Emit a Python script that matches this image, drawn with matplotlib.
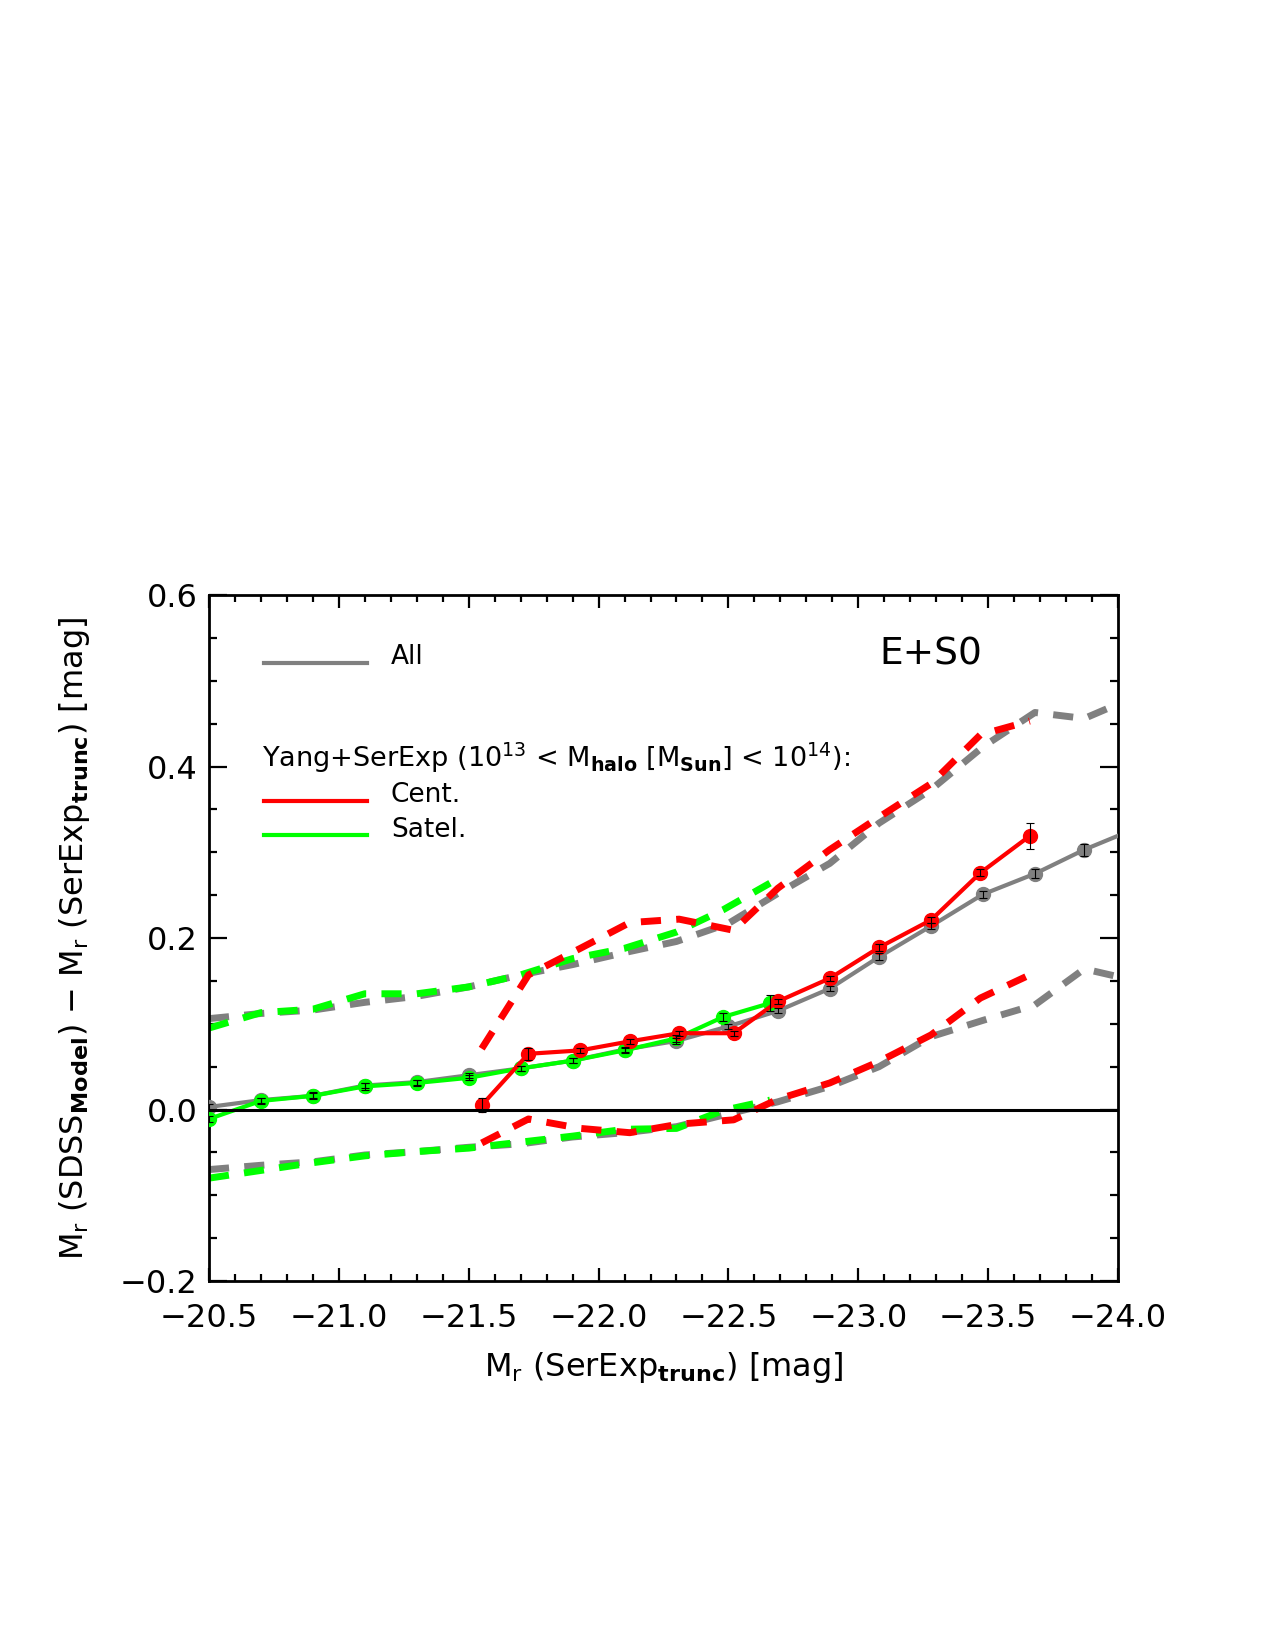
import numpy as np
import matplotlib
matplotlib.use('Agg')
import matplotlib.pyplot as plt
from matplotlib.ticker import MultipleLocator, FuncFormatter

# solid lines: median offset per magnitude bin
all_x = [-20.5, -20.7, -20.9, -21.1, -21.3, -21.5, -21.7, -21.9, -22.1, -22.3,
         -22.5, -22.69, -22.89, -23.08, -23.28, -23.48, -23.68, -23.87, -24.07]
all_y = [0.003, 0.011, 0.016, 0.028, 0.032, 0.040, 0.048, 0.057, 0.070, 0.080,
         0.097, 0.115, 0.141, 0.178, 0.214, 0.251, 0.275, 0.303, 0.328]
all_err = [0.004, 0.003, 0.003, 0.003, 0.003, 0.003, 0.003, 0.003, 0.003, 0.003,
           0.003, 0.003, 0.003, 0.004, 0.004, 0.004, 0.005, 0.007, 0.008]

sat_x = [-20.5, -20.7, -20.9, -21.1, -21.3, -21.5, -21.7, -21.9, -22.1, -22.3,
         -22.48, -22.66]
sat_y = [-0.011, 0.010, 0.016, 0.027, 0.031, 0.037, 0.048, 0.057, 0.069, 0.083,
         0.108, 0.124]
sat_err = [0.004, 0.004, 0.004, 0.004, 0.003, 0.003, 0.003, 0.003, 0.003, 0.004,
           0.005, 0.009]

cen_x = [-21.55, -21.73, -21.93, -22.12, -22.31, -22.52, -22.69, -22.89, -23.08,
         -23.28, -23.47, -23.66]
cen_y = [0.005, 0.065, 0.069, 0.0795, 0.089, 0.089, 0.126, 0.153, 0.189, 0.221,
         0.276, 0.319]
cen_err = [0.008, 0.007, 0.003, 0.003, 0.003, 0.003, 0.003, 0.003, 0.004, 0.004,
           0.004, 0.0155]

# dashed lines: upper / lower percentiles
all_hi = [0.106, 0.112, 0.116, 0.125, 0.132, 0.143, 0.157, 0.169, 0.183, 0.196,
          0.217, 0.252, 0.287, 0.334, 0.373, 0.423, 0.463, 0.456, 0.482]
all_lo = [-0.070, -0.065, -0.061, -0.053, -0.049, -0.044, -0.040, -0.032, -0.027,
          -0.020, -0.005, 0.009, 0.027, 0.050, 0.085, 0.104, 0.122, 0.164, 0.150]

sat_hi = [0.095, 0.113, 0.117, 0.135, 0.135, 0.143, 0.157, 0.176, 0.188, 0.207,
          0.233, 0.264]
sat_lo = [-0.080, -0.071, -0.062, -0.054, -0.049, -0.045, -0.038, -0.031, -0.023,
          -0.022, -0.001, 0.011]

cen_hi = [0.071, 0.157, 0.188, 0.218, 0.222, 0.209, 0.258, 0.303, 0.341, 0.380,
          0.437, 0.453]
cen_lo = [-0.039, -0.011, -0.022, -0.027, -0.017, -0.012, 0.012, 0.031, 0.056,
          0.087, 0.130, 0.157]

GRAY = '#808080'
RED = '#ff0000'
GREEN = '#00ff00'

plt.rcParams['font.family'] = ['DejaVu Sans']
plt.rcParams['mathtext.fontset'] = 'dejavusans'

fig = plt.figure(figsize=(12.75, 16.5), dpi=100)
ax = fig.add_axes([0.1639, 0.2236, 0.713, 0.4158])


def solid(x, y, err, color):
    ax.plot(x, y, color=color, lw=3, zorder=3)
    ax.plot(x, y, 'o', color=color, ms=10, zorder=3)
    ax.errorbar(x, y, yerr=err, fmt='none', ecolor='black', elinewidth=0.8,
                capsize=3, capthick=0.8, zorder=4)


def dashed(x, y, color):
    ax.plot(x, y, color=color, lw=5, dashes=(2.9, 2.2),
            dash_capstyle='butt', zorder=2)


dashed(all_x, all_hi, GRAY)
dashed(all_x, all_lo, GRAY)
dashed(sat_x, sat_hi, GREEN)
dashed(sat_x, sat_lo, GREEN)
dashed(cen_x, cen_hi, RED)
dashed(cen_x, cen_lo, RED)

solid(all_x, all_y, all_err, GRAY)
solid(sat_x, sat_y, sat_err, GREEN)
solid(cen_x, cen_y, cen_err, RED)

ax.axhline(0.0, color='black', lw=2.2, zorder=5)

ax.set_xlim(-20.5, -24.0)
ax.set_ylim(-0.2, 0.6)

fmt = FuncFormatter(lambda v, p: f'{v:.1f}'.replace('-', '\u2212'))
ax.xaxis.set_major_locator(MultipleLocator(0.5))
ax.xaxis.set_minor_locator(MultipleLocator(0.1))
ax.yaxis.set_major_locator(MultipleLocator(0.2))
ax.yaxis.set_minor_locator(MultipleLocator(0.05))
ax.xaxis.set_major_formatter(fmt)
ax.yaxis.set_major_formatter(fmt)

ax.tick_params(which='both', direction='in', top=True, right=True, width=1.6,
               labelsize=23)
ax.tick_params(axis='x', which='major', length=9.5, pad=16)
ax.tick_params(axis='x', which='minor', length=5)
ax.tick_params(axis='y', which='major', length=13, pad=8)
ax.tick_params(axis='y', which='minor', length=6)
for s in ax.spines.values():
    s.set_linewidth(2)

ax.set_xlabel(r'M$_\mathrm{r}$ (SerExp$_{\bf trunc}$) [mag]', fontsize=23,
              labelpad=11)
ax.set_ylabel(r'M$_\mathrm{r}$ (SDSS$_{\bf Model}$) $-$ M$_\mathrm{r}$ '
              r'(SerExp$_{\bf trunc}$) [mag]', fontsize=23, labelpad=20)

# legend drawn by hand, like the original
ax.plot([-20.71, -21.11], [0.521, 0.521], color=GRAY, lw=3)
ax.text(-21.2, 0.5195, 'All', fontsize=19, va='baseline', ha='left')
ax.text(-20.704, 0.3994,
        r'Yang+SerExp (10$^{13}$ < M$_{\bf halo}$ [M$_{\bf Sun}$] < 10$^{14}$):',
        fontsize=19.5, va='baseline', ha='left')
ax.plot([-20.71, -21.11], [0.360, 0.360], color=RED, lw=3)
ax.text(-21.2, 0.3586, 'Cent.', fontsize=19, va='baseline', ha='left')
ax.plot([-20.71, -21.11], [0.320, 0.320], color=GREEN, lw=3)
ax.text(-21.2, 0.3178, 'Satel.', fontsize=19, va='baseline', ha='left')
ax.text(-23.28, 0.5195, 'E+S0', fontsize=27, va='baseline', ha='center')

fig.savefig('out.png', dpi=100)
